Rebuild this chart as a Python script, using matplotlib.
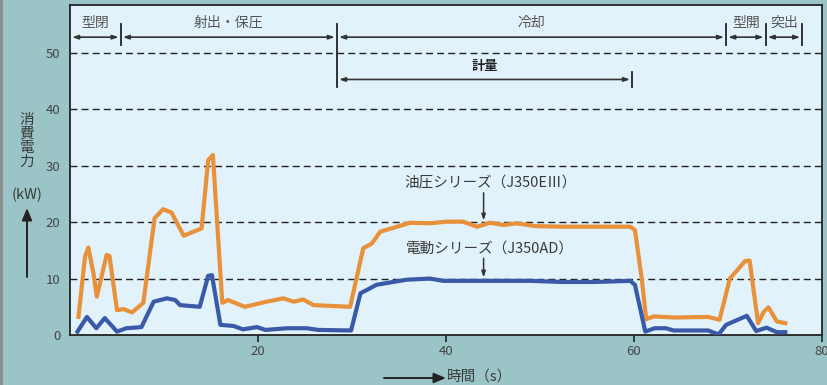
import matplotlib
matplotlib.use("Agg")
import matplotlib.pyplot as plt
from matplotlib.lines import Line2D
from matplotlib.patches import FancyArrowPatch

plt.rcParams['font.family'] = ['Noto Sans CJK JP', 'DejaVu Sans']

# Hydraulic series (J350EIII): time [s], power [kW]
hyd_t = [0.9, 1.6, 1.95, 2.5, 2.85, 3.9, 4.2, 5.0, 5.7, 6.6, 7.8, 9.0, 9.9, 10.8, 12.1,
         14.0, 14.7, 15.2, 16.2, 16.8, 18.6, 20.9, 22.7, 23.8, 24.8, 25.9, 29.8, 31.2,
         32.1, 33.0, 34.8, 36.2, 38.3, 40.1, 41.8, 43.3, 44.7, 46.1, 47.5, 49.6, 52.5,
         56.0, 59.6, 60.1, 60.8, 61.3, 62.1, 64.2, 67.9, 69.1, 70.2, 71.3, 71.8, 72.3,
         73.2, 73.8, 74.3, 75.2, 76.1]
hyd_kw = [3.2, 13.9, 15.5, 10.9, 6.8, 14.2, 14.0, 4.4, 4.6, 4.0, 5.7, 20.7, 22.3, 21.7, 17.6,
          18.9, 31.0, 31.9, 5.7, 6.2, 5.0, 5.9, 6.5, 5.9, 6.3, 5.3, 5.0, 15.4,
          16.2, 18.3, 19.2, 19.9, 19.8, 20.1, 20.1, 19.2, 19.9, 19.5, 19.8, 19.3, 19.2,
          19.2, 19.2, 18.6, 10.3, 2.8, 3.3, 3.1, 3.2, 2.7, 10.0, 12.1, 13.1, 13.2,
          2.1, 4.1, 4.9, 2.4, 2.1]

# Electric series (J350AD): time [s], power [kW]
ele_t = [0.8, 1.8, 2.8, 3.7, 5.0, 6.0, 7.6, 8.9, 10.3, 11.2, 11.7, 13.8, 14.7, 15.1, 16.0,
         17.4, 18.4, 19.9, 20.8, 23.1, 25.2, 26.4, 29.9, 30.9, 31.6, 32.6, 34.0, 35.8,
         38.3, 39.7, 41.8, 45.3, 48.9, 52.4, 55.9, 59.6, 60.1, 61.2, 62.2, 63.4, 64.2,
         67.9, 69.0, 69.8, 72.0, 73.0, 74.1, 75.2, 76.1]
ele_kw = [0.6, 3.2, 1.2, 3.0, 0.6, 1.2, 1.4, 5.9, 6.5, 6.2, 5.3, 5.0, 10.5, 10.6, 1.8,
          1.6, 1.0, 1.4, 0.9, 1.2, 1.2, 0.9, 0.8, 7.4, 8.0, 8.9, 9.3, 9.8,
          10.0, 9.6, 9.6, 9.6, 9.6, 9.4, 9.4, 9.6, 8.9, 0.6, 1.2, 1.2, 0.8,
          0.8, 0.1, 1.8, 3.4, 0.7, 1.3, 0.5, 0.5]

# Molding cycle phases: boundaries in seconds
phase_names = ['型閉', '射出・保圧', '冷却', '型開', '突出']
phase_edges = [0.0, 5.4, 28.4, 69.8, 74.0, 77.9]
metering = ('計量', 28.4, 59.8)

x_ticks = [20, 40, 60, 80]
y_ticks = [0, 10, 20, 30, 40, 50]

fig_bg = '#9BC4C6'
ax_bg = '#E1F2FA'
orange = '#E8913A'
blue = '#3A5AA8'
txt = '#3a3a3a'

fig = plt.figure(figsize=(8.27, 3.85), dpi=100, facecolor=fig_bg)
ax = fig.add_axes([70 / 827, 50 / 385, 752 / 827, 330 / 385], facecolor=ax_bg)

ax.set_xlim(0, 80)
ax.set_ylim(0, 58.5)

for v in y_ticks[1:]:
    ax.axhline(v, color='#222222', lw=1.0, ls=(0, (5, 3)), zorder=1)

ax.plot(hyd_t, hyd_kw, color=orange, lw=3, solid_joinstyle='round', zorder=3)
ax.plot(ele_t, ele_kw, color=blue, lw=3, solid_joinstyle='round', zorder=3)

ax.set_xticks(x_ticks)
ax.set_xticklabels([str(v) for v in x_ticks], fontsize=9.5, color='#444444')
ax.set_yticks(y_ticks)
ax.set_yticklabels([str(v) for v in y_ticks], fontsize=9.5, color='#444444')
ax.tick_params(axis='x', direction='out', length=5, width=1.2, color='#222222', pad=2)
ax.tick_params(axis='y', length=0, pad=7)
for s in ax.spines.values():
    s.set_color('#222222')
    s.set_linewidth(1.3)

arrow_kw = dict(arrowstyle='<|-|>,head_length=0.35,head_width=0.12', color='#333333',
                lw=1.2, shrinkA=1.5, shrinkB=1.5)

# Phase arrows along the top
y_arr = 52.8
for name, a, b in zip(phase_names, phase_edges[:-1], phase_edges[1:]):
    ax.annotate('', xy=(b, y_arr), xytext=(a, y_arr), arrowprops=arrow_kw, zorder=4)
    ax.text((a + b) / 2, 54.1, name, ha='center', va='bottom', fontsize=10, color='#555555')
for e in phase_edges[1:]:
    lo = 44.0 if e == metering[1] else 51.4
    ax.plot([e, e], [lo, 55.1], color='#222222', lw=1.3, zorder=4)

# Metering interval
m_name, m_a, m_b = metering
ax.annotate('', xy=(m_b, 45.3), xytext=(m_a, 45.3), arrowprops=arrow_kw, zorder=4)
ax.plot([m_b, m_b], [44.0, 46.6], color='#222222', lw=1.3, zorder=4)
ax.text((m_a + m_b) / 2, 46.4, m_name, ha='center', va='bottom', fontsize=9.5,
        color='#222222', fontweight='bold')

# Series labels
ax.text(44.7, 27.0, '油圧シリーズ（J350EⅢ）', ha='center', va='center', fontsize=10.5, color=txt)
ax.annotate('', xy=(44.0, 20.3), xytext=(44.0, 25.2),
            arrowprops=dict(arrowstyle='-|>,head_length=0.35,head_width=0.12',
                            color='#333333', lw=1.1, shrinkA=0, shrinkB=0))
ax.text(44.7, 15.4, '電動シリーズ（J350AD）', ha='center', va='center', fontsize=10.5, color=txt)
ax.annotate('', xy=(44.0, 10.2), xytext=(44.0, 13.6),
            arrowprops=dict(arrowstyle='-|>,head_length=0.35,head_width=0.12',
                            color='#333333', lw=1.1, shrinkA=0, shrinkB=0))

# Y axis caption with upward arrow
fig.text(27 / 827, 1 - 141 / 385, '消\n費\n電\n力', ha='center', va='center', fontsize=10.5,
         color=txt, linespacing=1.0)
fig.text(27 / 827, 1 - 195 / 385, '(kW)', ha='center', va='center', fontsize=10.5, color=txt)
fig.add_artist(FancyArrowPatch(
    (27 / 827, 1 - 277 / 385), (27 / 827, 1 - 208 / 385), transform=fig.transFigure,
    arrowstyle='-|>,head_length=0.6,head_width=0.25', mutation_scale=12,
    color='#222222', lw=1.4, shrinkA=0, shrinkB=0))

# X axis caption with rightward arrow
fig.add_artist(FancyArrowPatch(
    (384 / 827, 1 - 378 / 385), (446 / 827, 1 - 378 / 385), transform=fig.transFigure,
    arrowstyle='-|>,head_length=0.6,head_width=0.25', mutation_scale=12,
    color='#222222', lw=1.4, shrinkA=0, shrinkB=0))
fig.text(447 / 827, 1 - 377 / 385, '時間（s）', ha='left', va='center', fontsize=10.5, color=txt)

# Thin darker strip on the left edge
fig.add_artist(Line2D([1 / 827, 1 / 827], [0, 1], transform=fig.transFigure,
                      color='#8a8a8a', lw=2))

fig.savefig('out.png', dpi=100, facecolor=fig_bg)
